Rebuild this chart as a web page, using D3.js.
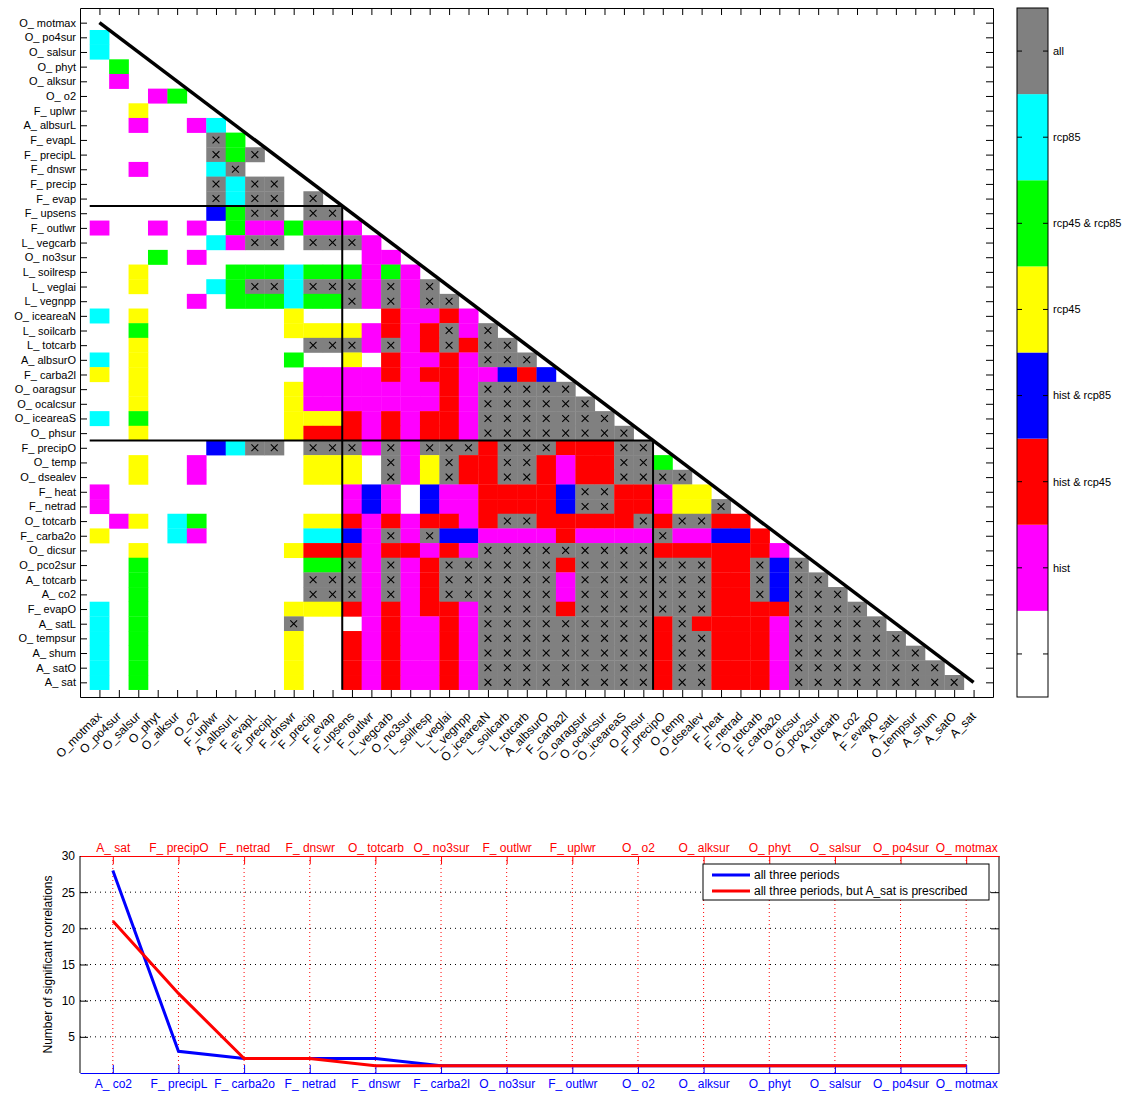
<!DOCTYPE html>
<html>
<head>
<meta charset="utf-8">
<script src="https://cdn.jsdelivr.net/npm/d3@7"></script>
<style>
  body { margin: 0; background: #fff; }
  svg text { font-family: "Liberation Sans", Arial, Helvetica, sans-serif; }
</style>
</head>
<body>
<script>
// variables, in matrix order (top to bottom, left to right)
const vars = ["O_motmax","O_po4sur","O_salsur","O_phyt","O_alksur","O_o2","F_uplwr","A_albsurL","F_evapL","F_precipL",
  "F_dnswr","F_precip","F_evap","F_upsens","F_outlwr","L_vegcarb","O_no3sur","L_soilresp","L_veglai","L_vegnpp",
  "O_iceareaN","L_soilcarb","L_totcarb","A_albsurO","F_carba2l","O_oaragsur","O_ocalcsur","O_iceareaS","O_phsur","F_precipO",
  "O_temp","O_dsealev","F_heat","F_netrad","O_totcarb","F_carba2o","O_dicsur","O_pco2sur","A_totcarb","A_co2",
  "F_evapO","A_satL","O_tempsur","A_shum","A_satO","A_sat"]

// lower triangle, one string per row (col 0 .. row-1)
// . none, h hist, r hist&rcp45, b hist&rcp85, y rcp45, g rcp45&rcp85, c rcp85, x all
const rows = [
  "",
  "c",
  "c.",
  ".g.",
  ".h..",
  "...hg",
  "..y...",
  "..h..hc",
  "......xg",
  "......xgx",
  "..h...cx..",
  "......xcxx.",
  "......xcxx.x",
  "......bgxx.xx",
  "h..h.h.ghhghhh",
  "......chxx.xxxh",
  "...g.h........hh",
  "..y....gggcggghgh",
  "..y...cgxxcxxxhxhx",
  ".....h.gggcggxhxhxx",
  "c.y.......y....rhhrh",
  "..g.......yyyyhrhrxhx",
  "..y........xxxhxhrxrxx",
  "c.y.......g..y.rhhrhxxx",
  "y.y........hhhhrhrrhhbrb",
  "..y.......yhhhhhhhrhxxxxx",
  "..y.......yhhhhhhhrhxxxxxx",
  "c.g.......yyyrhrhrrhxxxxxxx",
  "..y.......yrrrhrhrrhxxxxxxxx",
  "......bcxx.xxxhxhxxxrxxxrrrxx",
  "..y..h.....yyy.xhyxrrxxrhrrxxg",
  "..y..h.....yyy.xhyxrrxxrhrrxxxx",
  "h............hbh.bhhrrrrbxxrrhyy",
  "h............hbh.bhhrrrrbxxrrhyyx",
  ".hy.cg.....yyrhrhrrhrxxrrrrrxrxxrr",
  "y...ch.....ccbhxhxbbhhhhrhhhhxhhbbr",
  "..y.......yrrrhrrhrhxxxxxxxxxrrrrrrh",
  "..g........ggxhxhrxxxxxxrxxxxxxxrrxbx",
  "..g........xxxhxhrxxxxxxhxxxxxxxrrxbxx",
  "..g........xxxhxhrxxxxxxhxxxxxxxrrxbxxx",
  "c.g.......yyyrhrhrrhxxxxrxxxxxxxrrrrxxxx",
  "c.g.......x...hrhhrhxxxxxxxxxrxrrrrhxxxxx",
  "c.g.......y..rhrhhrhxxxxxxxxxrxxrrrhxxxxxx",
  "c.g.......y..rhrhhrhxxxxxxxxxrxxrrrhxxxxxxx",
  "c.g.......y..rhrhhrhxxxxxxxxxrxxrrrhxxxxxxxx",
  "c.g.......y..rhrhhrhxxxxxxxxxrxxrrrhxxxxxxxxx"
]

const codeIndex = {".": 0, "h": 1, "r": 2, "b": 3, "y": 4, "g": 5, "c": 6, "x": 7}
const catLabels = ["", "hist", "hist & rcp45", "hist & rcp85", "rcp45", "rcp45 & rcp85", "rcp85", "all"]
const catColors = ["#ffffff", "#ff00ff", "#ff0000", "#0000ff", "#ffff00", "#00ff00", "#00ffff", "#808080"]

// block separators: after these many variables
const blockEnds = [13, 29]

// lower panel
const rankBottom = ["A_co2","F_precipL","F_carba2o","F_netrad","F_dnswr","F_carba2l","O_no3sur","F_outlwr","O_o2","O_alksur","O_phyt","O_salsur","O_po4sur","O_motmax"]
const rankTop = ["A_sat","F_precipO","F_netrad","F_dnswr","O_totcarb","O_no3sur","F_outlwr","F_uplwr","O_o2","O_alksur","O_phyt","O_salsur","O_po4sur","O_motmax"]
const nAll = [28, 3, 2, 2, 2, 1, 1, 1, 1, 1, 1, 1, 1, 1]
const nPrescribed = [21, 11, 2, 2, 1, 1, 1, 1, 1, 1, 1, 1, 1, 1]
const yTicks = [5, 10, 15, 20, 25, 30]

const width = 1134
const height = 1094
const font = '"Liberation Sans", Arial, Helvetica, sans-serif'
const spaced = s => s.replace("_", "_ ")

const svg = d3.select("body").append("svg")
    .attr("width", width)
    .attr("height", height)

// ---------------- matrix ----------------
const n = vars.length
const sx = d3.scaleLinear().domain([0, n + 1]).range([80, 993])
const sy = d3.scaleLinear().domain([0, n + 1]).range([8, 697])
const idx = d3.range(1, n + 1)

let cells = []
rows.forEach((row, i) => {
    row.split("").forEach((ch, j) => {
        if (ch !== ".") cells.push({i, j, cat: codeIndex[ch]})
    })
})

const m = svg.append("g")

m.append("g").selectAll("rect")
    .data(cells)
    .enter().append("rect")
    .attr("x", d => sx(d.j + 0.5))
    .attr("y", d => sy(d.i + 0.5))
    .attr("width", d => sx(d.j + 1.5) - sx(d.j + 0.5) + 0.3)
    .attr("height", d => sy(d.i + 1.5) - sy(d.i + 0.5) + 0.3)
    .attr("fill", d => catColors[d.cat])

const xs = 3.4
m.append("g").selectAll("path")
    .data(cells.filter(d => d.cat === 7))
    .enter().append("path")
    .attr("transform", d => `translate(${sx(d.j + 1)},${sy(d.i + 1)})`)
    .attr("d", `M${-xs},${-xs}L${xs},${xs}M${-xs},${xs}L${xs},${-xs}`)
    .attr("stroke", "#000")
    .attr("stroke-width", 1.1)
    .attr("fill", "none")

// block separators
blockEnds.forEach(k => {
    m.append("path")
        .attr("d", `M${sx(0.5)},${sy(k + 0.5)}H${sx(k + 0.5)}V${sy(n + 0.5)}`)
        .attr("stroke", "#000")
        .attr("stroke-width", 2)
        .attr("fill", "none")
})

// diagonal
m.append("line")
    .attr("x1", sx(1)).attr("y1", sy(1))
    .attr("x2", sx(n)).attr("y2", sy(n))
    .attr("stroke", "#000")
    .attr("stroke-width", 3.5)

function styleAxis(g, size) {
    g.attr("font-family", font).attr("font-size", size)
    g.selectAll(".domain").attr("stroke", "#000")
}

m.append("g")
    .attr("transform", "translate(80,0)")
    .call(d3.axisLeft(sy).tickValues(idx).tickFormat(i => spaced(vars[i - 1])).tickSize(-7).tickSizeOuter(0).tickPadding(4))
    .call(g => styleAxis(g, 11))
m.append("g")
    .attr("transform", "translate(993,0)")
    .call(d3.axisRight(sy).tickValues(idx).tickFormat("").tickSize(-7).tickSizeOuter(0))
m.append("g")
    .attr("transform", "translate(0,8)")
    .call(d3.axisTop(sx).tickValues(idx).tickFormat("").tickSize(-7).tickSizeOuter(0))
m.append("g")
    .attr("transform", "translate(0,697)")
    .call(d3.axisBottom(sx).tickValues(idx).tickFormat("").tickSize(-7).tickSizeOuter(0))

m.append("g").selectAll("text")
    .data(idx)
    .enter().append("text")
    .attr("transform", i => `translate(${sx(i)},714) rotate(-45)`)
    .attr("text-anchor", "end")
    .attr("dy", "0.35em")
    .attr("font-size", 12)
    .text(i => vars[i - 1])

// ---------------- colour bar ----------------
const cb = svg.append("g")
const cbX = 1017, cbW = 31
const cy = d3.scaleLinear().domain([0, catColors.length]).range([697, 8])

cb.selectAll("rect")
    .data(catColors)
    .enter().append("rect")
    .attr("x", cbX)
    .attr("y", (c, k) => cy(k + 1))
    .attr("width", cbW)
    .attr("height", (c, k) => cy(k) - cy(k + 1))
    .attr("fill", c => c)

cb.append("rect")
    .attr("x", cbX).attr("y", 8)
    .attr("width", cbW).attr("height", 689)
    .attr("fill", "none")
    .attr("stroke", "#000")

catLabels.forEach((lab, k) => {
    const yy = cy(k + 0.5)
    cb.append("path")
        .attr("d", `M${cbX},${yy}h5M${cbX + cbW},${yy}h-5`)
        .attr("stroke", "#000")
    if (lab) {
        cb.append("text")
            .attr("x", cbX + cbW + 5)
            .attr("y", yy)
            .attr("dy", "0.35em")
            .attr("font-size", 11)
            .text(lab)
    }
})

// ---------------- ranking panel ----------------
const p = svg.append("g")
const bx = d3.scaleLinear().domain([0.5, rankBottom.length + 0.5]).range([80, 999])
const by = d3.scaleLinear().domain([0, 30]).range([1073, 856])
const pos = d3.range(1, rankBottom.length + 1)

// grid
p.append("g").selectAll("line")
    .data(yTicks.filter(v => v < 30))
    .enter().append("line")
    .attr("x1", 80).attr("x2", 999)
    .attr("y1", v => by(v)).attr("y2", v => by(v))
    .attr("stroke", "#000")
    .attr("stroke-width", 1)
    .attr("stroke-dasharray", "1,4")
p.append("g").selectAll("line")
    .data(pos)
    .enter().append("line")
    .attr("x1", k => bx(k)).attr("x2", k => bx(k))
    .attr("y1", 856).attr("y2", 1073)
    .attr("stroke", "#ff0000")
    .attr("stroke-width", 1)
    .attr("stroke-dasharray", "1,3")

const pl = p.append("g")
    .attr("transform", "translate(80,0)")
    .call(d3.axisLeft(by).tickValues(yTicks).tickSize(-8).tickSizeOuter(0).tickPadding(5))
    .call(g => styleAxis(g, 12))
pl.select(".domain").attr("d", "M0,856V1073")
p.append("g")
    .attr("transform", "translate(999,0)")
    .call(d3.axisRight(by).tickValues(yTicks).tickFormat("").tickSize(-8).tickSizeOuter(0))
    .select(".domain").attr("d", "M0,856V1073")

p.append("g")
    .attr("transform", "translate(0,856)")
    .attr("color", "#ff0000")
    .call(d3.axisTop(bx).tickValues(pos).tickFormat(k => spaced(rankTop[k - 1])).tickSize(-8).tickSizeOuter(0).tickPadding(4))
    .call(g => g.attr("font-family", font).attr("font-size", 12))
p.append("g")
    .attr("transform", "translate(0,1073)")
    .attr("color", "#0000ff")
    .call(d3.axisBottom(bx).tickValues(pos).tickFormat(k => spaced(rankBottom[k - 1])).tickSize(-8).tickSizeOuter(0).tickPadding(6))
    .call(g => g.attr("font-family", font).attr("font-size", 12))

p.append("text")
    .attr("transform", `translate(52,${by(15)}) rotate(-90)`)
    .attr("text-anchor", "middle")
    .attr("font-size", 12)
    .text("Number of significant correlations")

const line = d3.line()
    .x((v, k) => bx(k + 1))
    .y(v => by(v))

p.append("path")
    .datum(nAll)
    .attr("d", line)
    .attr("fill", "none")
    .attr("stroke", "#0000ff")
    .attr("stroke-width", 3)
p.append("path")
    .datum(nPrescribed)
    .attr("d", line)
    .attr("fill", "none")
    .attr("stroke", "#ff0000")
    .attr("stroke-width", 3)

// legend
const lg = p.append("g").attr("transform", "translate(703,864)")
lg.append("rect")
    .attr("width", 286).attr("height", 36)
    .attr("fill", "#fff")
    .attr("stroke", "#000")
const legendItems = [
    {label: "all three periods", color: "#0000ff"},
    {label: "all three periods, but A_sat is prescribed", color: "#ff0000"}
]
legendItems.forEach((it, k) => {
    const yy = 11 + k * 16
    lg.append("line")
        .attr("x1", 9).attr("x2", 47)
        .attr("y1", yy).attr("y2", yy)
        .attr("stroke", it.color)
        .attr("stroke-width", 3)
    lg.append("text")
        .attr("x", 51).attr("y", yy)
        .attr("dy", "0.35em")
        .attr("font-size", 12)
        .text(it.label)
})
</script>
</body>
</html>
